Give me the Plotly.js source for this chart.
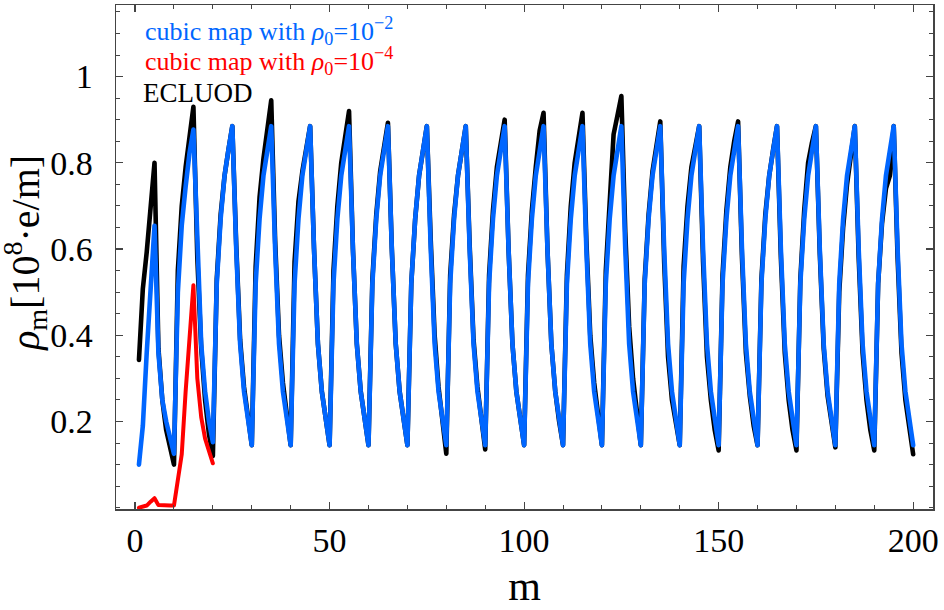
<!DOCTYPE html>
<html>
<head>
<meta charset="utf-8">
<script src="https://cdn.plot.ly/plotly-3.0.1.min.js"></script>
<style>
html,body{margin:0;padding:0;background:#fff;}
#chart{width:944px;height:610px;}
#chart .scatterlayer .js-line{stroke-linejoin:round;stroke-linecap:round;}
</style>
</head>
<body>
<div id="chart"></div>
<script>
// m runs 1,2,3,... (one value per m)
const ecloud = [
  0.343,0.508,0.593,0.708,0.800,0.370,0.250,0.180,0.140,0.100,
  0.550,0.700,0.790,0.860,0.930,0.580,0.370,0.250,0.170,0.120,
  0.530,0.680,0.770,0.830,0.885,0.610,0.390,0.280,0.210,0.145,
  0.560,0.720,0.810,0.870,0.945,0.620,0.400,0.290,0.210,0.145,
  0.570,0.710,0.780,0.835,0.885,0.600,0.380,0.270,0.200,0.145,
  0.550,0.700,0.800,0.855,0.920,0.600,0.380,0.270,0.200,0.145,
  0.530,0.680,0.780,0.840,0.893,0.600,0.380,0.270,0.200,0.145,
  0.520,0.670,0.770,0.830,0.885,0.620,0.400,0.280,0.200,0.125,
  0.540,0.680,0.770,0.830,0.885,0.610,0.390,0.280,0.200,0.135,
  0.540,0.690,0.790,0.850,0.900,0.600,0.380,0.270,0.200,0.145,
  0.540,0.690,0.790,0.875,0.916,0.600,0.380,0.270,0.200,0.145,
  0.540,0.700,0.800,0.860,0.916,0.620,0.400,0.290,0.220,0.145,
  0.550,0.720,0.866,0.910,0.955,0.640,0.420,0.300,0.210,0.145,
  0.530,0.680,0.780,0.840,0.896,0.570,0.350,0.250,0.190,0.145,
  0.560,0.700,0.790,0.840,0.885,0.570,0.350,0.250,0.180,0.133,
  0.540,0.690,0.790,0.850,0.896,0.580,0.360,0.260,0.190,0.145,
  0.530,0.680,0.770,0.830,0.885,0.580,0.360,0.250,0.180,0.133,
  0.530,0.690,0.800,0.847,0.885,0.590,0.370,0.260,0.190,0.140,
  0.500,0.650,0.750,0.820,0.885,0.580,0.360,0.250,0.180,0.133,
  0.520,0.660,0.740,0.770,0.885,0.580,0.360,0.250,0.180,0.124
];
const cubicRho2 = [
  0.100,0.190,0.360,0.520,0.654,0.360,0.250,0.200,0.160,0.125,
  0.500,0.655,0.745,0.823,0.877,0.600,0.380,0.270,0.200,0.152,
  0.520,0.670,0.770,0.830,0.885,0.600,0.380,0.270,0.200,0.145,
  0.520,0.670,0.770,0.830,0.885,0.600,0.380,0.270,0.200,0.145,
  0.520,0.670,0.770,0.830,0.885,0.600,0.380,0.270,0.200,0.145,
  0.520,0.670,0.770,0.830,0.885,0.600,0.380,0.270,0.200,0.145,
  0.520,0.670,0.770,0.830,0.885,0.600,0.380,0.270,0.200,0.145,
  0.520,0.670,0.770,0.830,0.885,0.600,0.380,0.270,0.200,0.145,
  0.520,0.670,0.770,0.830,0.885,0.600,0.380,0.270,0.200,0.145,
  0.520,0.670,0.770,0.830,0.885,0.600,0.380,0.270,0.200,0.145,
  0.520,0.670,0.770,0.830,0.885,0.600,0.380,0.270,0.200,0.145,
  0.520,0.670,0.770,0.830,0.885,0.600,0.380,0.270,0.200,0.145,
  0.520,0.670,0.770,0.830,0.885,0.600,0.380,0.270,0.200,0.145,
  0.520,0.670,0.770,0.830,0.885,0.600,0.380,0.270,0.200,0.145,
  0.520,0.670,0.770,0.830,0.885,0.600,0.380,0.270,0.200,0.145,
  0.520,0.670,0.770,0.830,0.885,0.600,0.380,0.270,0.200,0.145,
  0.520,0.670,0.770,0.830,0.885,0.600,0.380,0.270,0.200,0.145,
  0.520,0.670,0.770,0.830,0.885,0.600,0.380,0.270,0.200,0.145,
  0.520,0.670,0.770,0.830,0.885,0.600,0.380,0.270,0.200,0.145,
  0.520,0.670,0.770,0.830,0.885,0.600,0.380,0.270,0.200,0.145
];
const cubicRho4 = [
  0.000,0.003,0.005,0.014,0.022,0.006,0.005,0.005,0.005,0.005,
  0.063,0.124,0.270,0.400,0.516,0.300,0.210,0.160,0.130,0.103
];
const xTickVals = [0, 50, 100, 150, 200];
const xTickText = ["0", "50", "100", "150", "200"];
const yTickVals = [0.2, 0.4, 0.6, 0.8, 1];
const yTickText = ["0.2", "0.4", "0.6", "0.8", "1"];
const seriesNames = ["ECLUOD", "cubic map with ρ0=10−2", "cubic map with ρ0=10−4"];
const yTitle = "<i>ρ</i><sub>m</sub>[10<sup>8</sup>·e/m]";

const FONT = "Liberation Serif";
const BLUE = "#0066ff";
const RED = "#ff0000";

const traces = [
  {y: ecloud, x0: 1, dx: 1, type: "scatter", mode: "lines", name: seriesNames[0],
   line: {color: "#000000", width: 4.6, shape: "linear"}},
  {y: cubicRho2, x0: 1, dx: 1, type: "scatter", mode: "lines", name: seriesNames[1],
   line: {color: BLUE, width: 4.6}},
  {y: cubicRho4, x0: 1, dx: 1, type: "scatter", mode: "lines", name: seriesNames[2],
   line: {color: RED, width: 4}}
];

const axisCommon = {
  showline: true, linecolor: "#444", linewidth: 1.5, mirror: "allticks",
  ticks: "inside", ticklen: 7, tickwidth: 1.2, tickcolor: "#444",
  showgrid: false, zeroline: false,
  tickfont: {family: FONT, size: 34, color: "#000"}
};

const layout = {
  width: 944, height: 610,
  margin: {l: 116, r: 11, t: 5, b: 101},
  paper_bgcolor: "#fff", plot_bgcolor: "#fff",
  showlegend: false,
  font: {family: FONT, color: "#000"},
  xaxis: Object.assign({}, axisCommon, {
    range: [-4.9, 205.1],
    ticklabelstandoff: 1,
    tickmode: "array", tickvals: xTickVals, ticktext: xTickText,
    minor: {tickmode: "linear", tick0: 0, dtick: 10, ticks: "inside", ticklen: 4, tickcolor: "#444", tickwidth: 1},
    title: {text: "m", font: {family: FONT, size: 42, color: "#000"}, standoff: 12}
  }),
  yaxis: Object.assign({}, axisCommon, {
    range: [-0.003, 1.166],
    ticklabelstandoff: 15,
    tickmode: "array", tickvals: yTickVals, ticktext: yTickText,
    minor: {tickmode: "linear", tick0: 0, dtick: 0.05, ticks: "inside", ticklen: 4, tickcolor: "#444", tickwidth: 1}
  }),
  annotations: [
    {xref: "paper", yref: "paper", x: -0.1115, y: 0.508, xanchor: "center", yanchor: "middle", showarrow: false,
     textangle: -90, text: yTitle, font: {family: FONT, size: 40, color: "#000"}},
    {xref: "paper", yref: "paper", x: 0.033, y: 0.948, xanchor: "left", yanchor: "middle", showarrow: false,
     text: "cubic map with <i>ρ</i><sub>0</sub>=10<sup>−2</sup>", font: {family: FONT, size: 26, color: BLUE}},
    {xref: "paper", yref: "paper", x: 0.033, y: 0.888, xanchor: "left", yanchor: "middle", showarrow: false,
     text: "cubic map with <i>ρ</i><sub>0</sub>=10<sup>−4</sup>", font: {family: FONT, size: 26, color: RED}},
    {xref: "paper", yref: "paper", x: 0.031, y: 0.826, xanchor: "left", yanchor: "middle", showarrow: false,
     text: "ECLUOD", font: {family: FONT, size: 27, color: "#000"}}
  ]
};

Plotly.newPlot("chart", traces, layout, {staticPlot: true, displayModeBar: false});
</script>
</body>
</html>
